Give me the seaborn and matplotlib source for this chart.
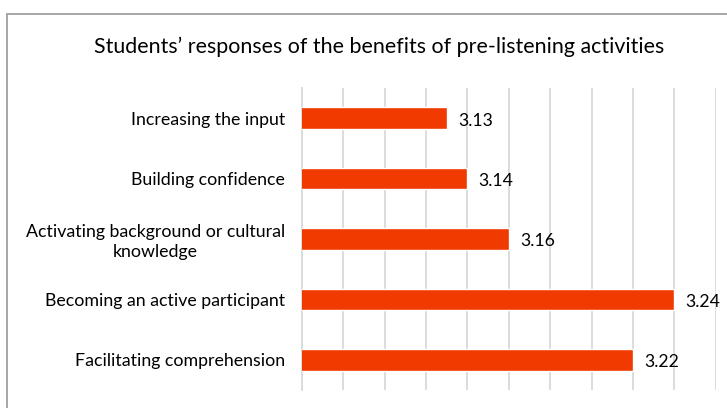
import matplotlib
matplotlib.use("Agg")
import matplotlib.pyplot as plt
import matplotlib.patches as mpatches
import seaborn as sns
import pandas as pd
import numpy as np

categories = [
    "Increasing the input",
    "Building confidence",
    "Activating background or cultural\nknowledge",
    "Becoming an active participant",
    "Facilitating comprehension",
]
scores = [3.13, 3.14, 3.16, 3.24, 3.22]
title = "Students\u2019 responses of the benefits of pre-listening activities"

x_min, x_max, x_step = 3.06, 3.26, 0.02

sns.set_theme(style="white")
plt.rcParams["font.family"] = ["Lato", "DejaVu Sans"]

df = pd.DataFrame({"category": categories, "score": scores})

fig = plt.figure(figsize=(7.27, 4.08), dpi=100)
fig.patch.set_facecolor("white")

# outer chart frame
frame = mpatches.Rectangle((7 / 727, -0.2), 1.2, 1 - 14 / 408 + 0.2,
                           transform=fig.transFigure, fill=False,
                           edgecolor="#a6a6a6", linewidth=1.4)
fig.add_artist(frame)

ax = fig.add_axes([301.7 / 727, 1 - 390 / 408, (715.7 - 301.7) / 727, (390 - 88) / 408])

sns.barplot(data=df, x="score", y="category", orient="h", color="#F03A00",
            saturation=1, width=0.36, ax=ax, zorder=3)

ax.set_xlim(x_min, x_max)
ax.set_ylim(len(categories) - 0.5, -0.5)
ax.set_xticks(np.arange(x_min, x_max + 1e-9, x_step))
ax.set_xticklabels([])
ax.tick_params(axis="x", length=0)
ax.grid(axis="x", color="#d9d9d9", linewidth=1.3, zorder=0)
ax.grid(axis="y", visible=False)
ax.set_xlabel("")
ax.set_ylabel("")

for side in ["top", "right", "bottom"]:
    ax.spines[side].set_visible(False)
ax.spines["left"].set_color("#d9d9d9")
ax.spines["left"].set_linewidth(1.3)

# category labels and boundary tick marks
ax.set_yticks(range(len(categories)))
ax.set_yticklabels(categories, fontsize=12.8, color="#000000")
for lbl in ax.get_yticklabels():
    lbl.set_multialignment("center")
    lbl.set_linespacing(1.3)
ax.tick_params(axis="y", which="major", length=0, pad=12)
ax.set_yticks(np.arange(-0.5, len(categories), 1), minor=True)
ax.tick_params(axis="y", which="minor", length=5, width=1.3, color="#d9d9d9")

for i, v in enumerate(scores):
    ax.text(v + 0.0055, i + 0.04, f"{v:.2f}", va="center", ha="left",
            fontsize=12.7, color="#000000", zorder=4)

fig.text(379 / 727, 1 - 47 / 408, title, ha="center", va="center",
         fontsize=15.4, color="#000000")

fig.savefig("out.png", dpi=100, facecolor="white")
